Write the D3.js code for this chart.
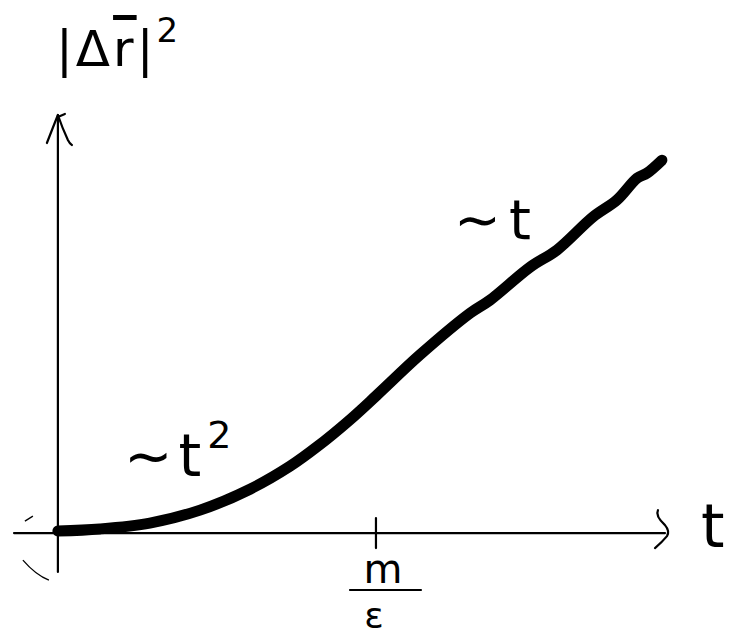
<!DOCTYPE html>
<html>
<head>
<meta charset="utf-8">
<script src="https://cdn.jsdelivr.net/npm/d3@7"></script>
<style>
  html, body { margin: 0; padding: 0; background: #fff; }
  svg text { font-family: "DejaVu Sans", sans-serif; fill: #000; }
</style>
</head>
<body>
<svg id="chart" width="732" height="639"></svg>
<script>
// Mean squared displacement vs time: ballistic (~t²) then diffusive (~t)
const timeValues = [0, 0.132, 0.289, 0.447, 0.604, 0.730, 0.814, 0.918, 1.003, 1.138,
                    1.296, 1.358, 1.484, 1.569, 1.682, 1.758, 1.821, 1.852, 1.899];
const msdValues  = [0.05, 0.10, 0.24, 0.55, 1.05, 1.60, 2.06, 2.71, 3.30, 4.26,
                    5.26, 5.57, 6.36, 6.77, 7.56, 7.97, 8.49, 8.61, 8.92];
const tickValues = [1];           // crossover time m/ε
const xDomain = [-0.138, 1.915];
const yDomain = [-0.93, 10.0];

const svg = d3.select("#chart");
const x = d3.scaleLinear().domain(xDomain).range([14, 667]);
const y = d3.scaleLinear().domain(yDomain).range([572, 115]);

const x0 = x(0), y0 = y(0);

// Axes
const axisStroke = { stroke: "#000", "stroke-width": 2.2, fill: "none", "stroke-linecap": "round", "stroke-linejoin": "round" };
function styled(sel) { Object.entries(axisStroke).forEach(([k, v]) => sel.attr(k, v)); return sel; }

styled(svg.append("line").attr("x1", x0).attr("x2", x0).attr("y1", y.range()[0]).attr("y2", y.range()[1]));
styled(svg.append("line").attr("x1", x.range()[0]).attr("x2", x.range()[1] - 2).attr("y1", y0).attr("y2", y0));

// y arrowhead
const yt = y.range()[1];
styled(svg.append("path").attr("d",
  `M${x0 - 11},${yt + 28} Q${x0 - 4},${yt + 10} ${x0},${yt}` +
  ` Q${x0 + 4},${yt + 12} ${x0 + 10},${yt + 25} Q${x0 + 12},${yt + 29} ${x0 + 14},${yt + 30}` +
  ` M${x0},${yt + 2} L${x0 + 7},${yt - 1}`));

// x arrowhead
const xe = x.range()[1];
styled(svg.append("path").attr("d",
  `M${xe - 9},${y0 - 23} Q${xe - 12},${y0 - 17} ${xe - 2},${y0 - 8} Q${xe + 3},${y0 - 2} ${xe},${y0 + 3}` +
  ` Q${xe - 5},${y0 + 9} ${xe - 12},${y0 + 15}`));

// small strokes near the origin
svg.append("path").attr("d", `M${x0 - 33},${y0 - 12} L${x0 - 25},${y0 - 17}`)
  .attr("stroke", "#000").attr("stroke-width", 1.3).attr("fill", "none");
svg.append("path").attr("d", `M${x0 - 35},${y0 + 27} Q${x0 - 22},${y0 + 42} ${x0 - 9},${y0 + 47}`)
  .attr("stroke", "#000").attr("stroke-width", 1.3).attr("fill", "none");

// tick at m/ε
tickValues.forEach(v => {
  styled(svg.append("line").attr("x1", x(v)).attr("x2", x(v)).attr("y1", y0 - 15).attr("y2", y0 + 15));
  const g = svg.append("g").attr("transform", `translate(${x(v) + 8},0)`);
  g.append("text").attr("x", 0).attr("y", 583).attr("text-anchor", "middle")
    .attr("font-size", 40).attr("letter-spacing", 2).text("m");
  styled(g.append("line").attr("x1", -34).attr("x2", 37).attr("y1", 590).attr("y2", 590));
  g.append("text").attr("x", -10).attr("y", 628).attr("text-anchor", "middle")
    .attr("font-size", 36).text("ε");
});

// axis labels
svg.append("text").attr("x", 701).attr("y", 547).attr("font-size", 60).text("t");

const yl = svg.append("text").attr("x", 56).attr("y", 66).attr("font-size", 50).attr("letter-spacing", 3);
yl.append("tspan").text("|Δ");
yl.append("tspan").attr("text-decoration", "overline").text("r");
yl.append("tspan").text("|");
yl.append("tspan").attr("dy", -24).attr("font-size", 34).text("2");

// curve
const pts = timeValues.map((t, i) => [x(t), y(msdValues[i])]);
svg.append("path")
  .attr("d", d3.line().curve(d3.curveCatmullRom.alpha(0.5))(pts))
  .attr("fill", "none").attr("stroke", "#000").attr("stroke-width", 11)
  .attr("stroke-linecap", "round").attr("stroke-linejoin", "round");

// regime annotations
const a1 = svg.append("text").attr("x", 124).attr("y", 476).attr("font-size", 58).attr("letter-spacing", 6);
a1.append("tspan").text("∼t");
a1.append("tspan").attr("dy", -28).attr("font-size", 38).text("2");

svg.append("text").attr("x", 454).attr("y", 239).attr("font-size", 56).attr("letter-spacing", 8).text("∼t");
</script>
</body>
</html>
